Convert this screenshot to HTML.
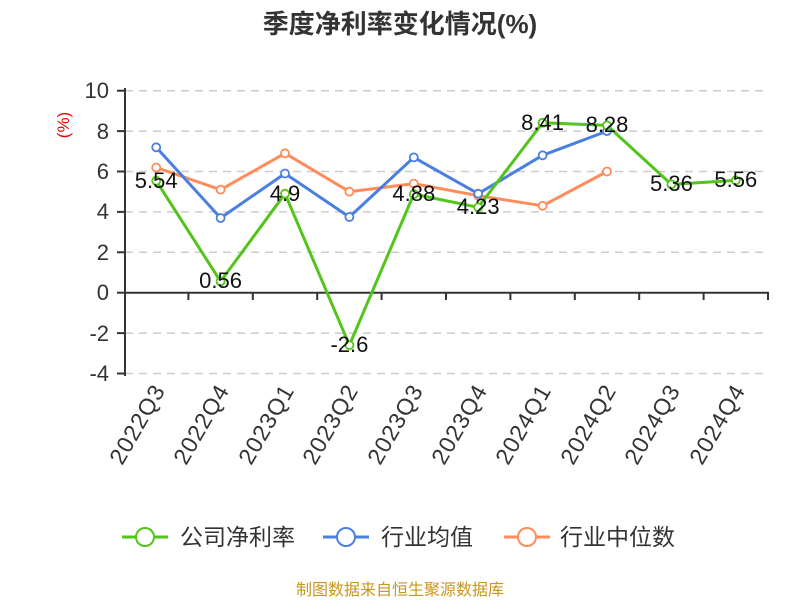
<!DOCTYPE html>
<html><head><meta charset="utf-8"><style>body{margin:0;background:#fff}</style></head><body>
<svg width="800" height="600" xmlns="http://www.w3.org/2000/svg" font-family="Liberation Sans, Noto Sans CJK SC, sans-serif">
<text x="400" y="33" text-anchor="middle" font-size="26" font-weight="bold" fill="#333">季度净利率变化情况(%)</text>
<text transform="translate(69,125) rotate(-90)" text-anchor="middle" font-size="17" fill="#e00">(%)</text>
<g stroke="#ccc" stroke-width="1.5" stroke-dasharray="8,6">
<line x1="125" x2="768" y1="90.7" y2="90.7"/><line x1="125" x2="768" y1="131.1" y2="131.1"/><line x1="125" x2="768" y1="171.5" y2="171.5"/><line x1="125" x2="768" y1="211.9" y2="211.9"/><line x1="125" x2="768" y1="252.3" y2="252.3"/><line x1="125" x2="768" y1="333.1" y2="333.1"/><line x1="125" x2="768" y1="373.5" y2="373.5"/>
</g>
<g stroke="#333" stroke-width="2">
<line x1="125" y1="88" x2="125" y2="376"/><line x1="124" y1="292.7" x2="769" y2="292.7"/>
<line x1="117" x2="125" y1="90.7" y2="90.7"/><line x1="117" x2="125" y1="131.1" y2="131.1"/><line x1="117" x2="125" y1="171.5" y2="171.5"/><line x1="117" x2="125" y1="211.9" y2="211.9"/><line x1="117" x2="125" y1="252.3" y2="252.3"/><line x1="117" x2="125" y1="292.7" y2="292.7"/><line x1="117" x2="125" y1="333.1" y2="333.1"/><line x1="117" x2="125" y1="373.5" y2="373.5"/>
<line x1="188.4" x2="188.4" y1="292.7" y2="300"/><line x1="252.8" x2="252.8" y1="292.7" y2="300"/><line x1="317.2" x2="317.2" y1="292.7" y2="300"/><line x1="381.6" x2="381.6" y1="292.7" y2="300"/><line x1="446" x2="446" y1="292.7" y2="300"/><line x1="510.4" x2="510.4" y1="292.7" y2="300"/><line x1="574.8" x2="574.8" y1="292.7" y2="300"/><line x1="639.2" x2="639.2" y1="292.7" y2="300"/><line x1="703.6" x2="703.6" y1="292.7" y2="300"/><line x1="768" x2="768" y1="292.7" y2="300"/>
</g>
<g font-size="22" fill="#333" text-anchor="end">
<text x="109" y="98">10</text><text x="109" y="139">8</text><text x="109" y="179">6</text><text x="109" y="219">4</text><text x="109" y="260">2</text><text x="109" y="300">0</text><text x="109" y="341">-2</text><text x="109" y="381">-4</text>
</g>
<g font-size="23" fill="#333" text-anchor="end" letter-spacing="1">
<text transform="translate(166,390) rotate(-60)">2022Q3</text>
<text transform="translate(230,390) rotate(-60)">2022Q4</text>
<text transform="translate(295,390) rotate(-60)">2023Q1</text>
<text transform="translate(359,390) rotate(-60)">2023Q2</text>
<text transform="translate(424,390) rotate(-60)">2023Q3</text>
<text transform="translate(488,390) rotate(-60)">2023Q4</text>
<text transform="translate(552,390) rotate(-60)">2024Q1</text>
<text transform="translate(617,390) rotate(-60)">2024Q2</text>
<text transform="translate(681,390) rotate(-60)">2024Q3</text>
<text transform="translate(746,390) rotate(-60)">2024Q4</text>
</g>
<g fill="none" stroke-width="3" stroke-linejoin="round">
<polyline stroke="#ff8c5a" points="156.2,167.5 220.6,189.7 285,153.3 349.4,191.7 413.8,183.6 478.2,195.7 542.6,205.8 607,171.5"/>
<polyline stroke="#4a7fe0" points="156.2,147.3 220.6,218 285,173.5 349.4,217 413.8,157.4 478.2,193.7 542.6,155.3 607,131.1"/>
<polyline stroke="#52c41a" points="156.2,180.8 220.6,281.4 285,193.7 349.4,345.2 413.8,194.1 478.2,207.3 542.6,122.8 607,125.4 671.4,184.4 735.8,180.4"/>
</g>
<g fill="#fff" stroke-width="1.8">
<g stroke="#ff8c5a"><circle cx="156.2" cy="167.5" r="4"/><circle cx="220.6" cy="189.7" r="4"/><circle cx="285" cy="153.3" r="4"/><circle cx="349.4" cy="191.7" r="4"/><circle cx="413.8" cy="183.6" r="4"/><circle cx="478.2" cy="195.7" r="4"/><circle cx="542.6" cy="205.8" r="4"/><circle cx="607" cy="171.5" r="4"/></g>
<g stroke="#4a7fe0"><circle cx="156.2" cy="147.3" r="4"/><circle cx="220.6" cy="218" r="4"/><circle cx="285" cy="173.5" r="4"/><circle cx="349.4" cy="217" r="4"/><circle cx="413.8" cy="157.4" r="4"/><circle cx="478.2" cy="193.7" r="4"/><circle cx="542.6" cy="155.3" r="4"/><circle cx="607" cy="131.1" r="4"/></g>
<g stroke="#52c41a"><circle cx="156.2" cy="180.8" r="4"/><circle cx="220.6" cy="281.4" r="4"/><circle cx="285" cy="193.7" r="4"/><circle cx="349.4" cy="345.2" r="4"/><circle cx="413.8" cy="194.1" r="4"/><circle cx="478.2" cy="207.3" r="4"/><circle cx="542.6" cy="122.8" r="4"/><circle cx="607" cy="125.4" r="4"/><circle cx="671.4" cy="184.4" r="4"/><circle cx="735.8" cy="180.4" r="4"/></g>
</g>
<g font-size="22" fill="#111" text-anchor="middle">
<text x="156.2" y="188">5.54</text><text x="220.6" y="288">0.56</text><text x="285" y="201">4.9</text><text x="349.4" y="352">-2.6</text><text x="413.8" y="201">4.88</text><text x="478.2" y="214">4.23</text><text x="542.6" y="130">8.41</text><text x="607" y="132">8.28</text><text x="671.4" y="191">5.36</text><text x="735.8" y="187">5.56</text>
</g>
<g font-size="23" fill="#333">
<line x1="122" x2="168" y1="537" y2="537" stroke="#52c41a" stroke-width="3"/><circle cx="145" cy="537" r="9" fill="#fff" stroke="#52c41a" stroke-width="2"/><text x="180" y="545">公司净利率</text>
<line x1="323" x2="369" y1="537" y2="537" stroke="#4a7fe0" stroke-width="3"/><circle cx="346" cy="537" r="9" fill="#fff" stroke="#4a7fe0" stroke-width="2"/><text x="381" y="545">行业均值</text>
<line x1="504" x2="550" y1="537" y2="537" stroke="#ff8c5a" stroke-width="3"/><circle cx="527" cy="537" r="9" fill="#fff" stroke="#ff8c5a" stroke-width="2"/><text x="560" y="545">行业中位数</text>
</g>
<text x="400" y="595" text-anchor="middle" font-size="16" fill="#c8961e">制图数据来自恒生聚源数据库</text>
</svg>
</body></html>
